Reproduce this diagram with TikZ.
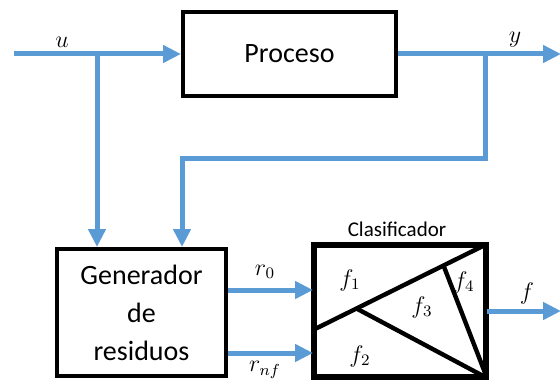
\documentclass[tikz,border=0pt]{standalone}
\usepackage{fontspec}
\setmainfont{Carlito}
\usetikzlibrary{positioning,arrows.meta,calc}

\definecolor{azul}{RGB}{91,155,213}

\tikzset{
    bloque/.style={draw, line width=2pt, inner sep=0pt, align=center,
        font=\fontsize{14}{19}\selectfont},
    senal/.style={draw=azul, line width=2.5pt,
        -{Triangle[length=9pt,width=8.5pt]}},
    etiqueta/.style={font=\fontsize{12}{14}\selectfont, inner sep=0pt},
    frontera/.style={draw, line width=2.2pt}
}

\begin{document}
\begin{tikzpicture}[x=0.5pt, y=-0.5pt]
    \useasboundingbox (0,0) rectangle (560,385);

    % bloques
    \node[bloque, minimum width=106.5pt, minimum height=42pt] (proceso) at (289.5,54) {Proceso};
    \node[bloque, minimum width=84.5pt, minimum height=63.5pt] (gen) at (141.5,312.5)
        {Generador\\de\\residuos};
    \node[bloque, minimum width=85pt, minimum height=65pt] (clas) at (400,311) {};
    \node[font=\fontsize{10.5}{12}\selectfont, inner sep=0pt] (clasnom) at (397,229) {Clasificador};

    % particion del clasificador
    \coordinate (d0) at (clas.west |- 0,330);
    \coordinate (j1) at ($(d0)!0.25!(clas.north east)$);
    \coordinate (j2) at ($(d0)!0.75!(clas.north east)$);
    \draw[frontera] (d0) -- (clas.north east);
    \draw[frontera] (j1) -- (clas.south east);
    \draw[frontera] (j2) -- (clas.south east);
    \draw[line width=2pt] (clas.north west) rectangle (clas.south east);

    \node[etiqueta] (f1) at (350,280) {$f_1$};
    \node[etiqueta] (f2) at (360,356) {$f_2$};
    \node[etiqueta] (f3) at (422,307) {$f_3$};
    \node[etiqueta] (f4) at (464,282) {$f_4$};

    % entrada y salida del proceso
    \coordinate (uin) at (14,54);
    \coordinate (bu) at (97,54);
    \coordinate (by) at (485,54);
    \coordinate (yout) at (561,54);
    \coordinate (ret) at (182,158);

    \draw[senal] (uin) -- (proceso.west);
    \draw[senal] (bu) -- (bu |- gen.north);
    \draw[senal] (proceso.east) -- (yout);
    \draw[senal] (by) -- (by |- ret) -- (ret) -- (ret |- gen.north);

    \node[etiqueta] (lu) at (62,42) {$u$};
    \node[etiqueta] (ly) at (515,40) {$y$};

    % residuos
    \path (gen.east) ++(0,-22.5) coordinate (r0a);
    \path (gen.east) ++(0,40.5) coordinate (rna);
    \draw[senal] (r0a) -- (r0a -| clas.west);
    \draw[senal] (rna) -- (rna -| clas.west);
    \node[etiqueta] (lr0) at (265,272) {$r_0$};
    \node[etiqueta] (lrn) at (265,370) {$r_{nf}$};

    % decision
    \coordinate (fout) at (561,311);
    \draw[senal] (clas.east) -- (fout);
    \node[etiqueta] (lf) at (527,293) {$f$};
\end{tikzpicture}
\end{document}
